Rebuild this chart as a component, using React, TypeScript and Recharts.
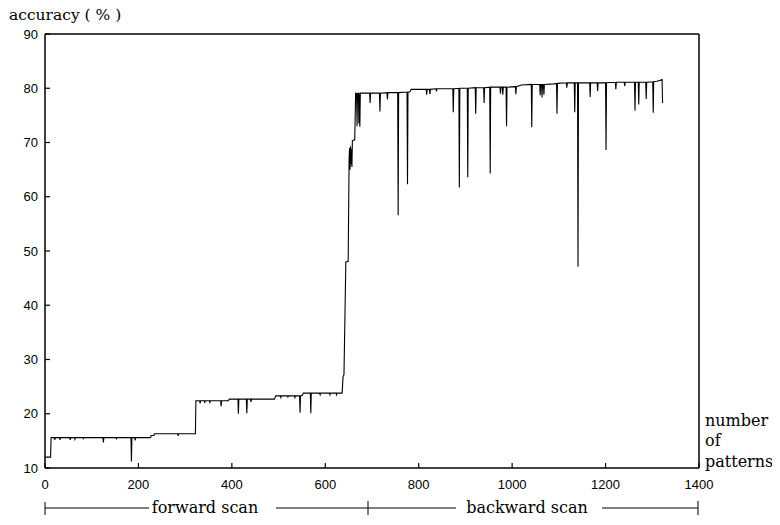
import React from "react";
import { LineChart, Line, XAxis, YAxis } from "recharts";

// Forward scan phase (number of patterns, accuracy %)
const forwardPatterns = [
  1, 12, 13, 20, 21, 22, 31, 32, 33, 53, 54, 55, 63, 64, 65, 81, 82, 83, 124, 125, 126,
  152, 153, 154, 184, 185, 186, 192, 193, 194, 226, 227, 233, 234, 284, 285, 286, 322, 323,
  331, 332, 333, 341, 342, 343, 352, 353, 354, 376, 377, 378, 392, 395, 413, 414, 415, 431,
  432, 433, 440, 441, 442, 491, 494, 504, 505, 506, 519, 520, 521, 534, 535, 536, 545, 546,
  547, 551, 553, 568, 569, 570, 588, 589, 590, 609, 610, 611, 623, 624, 625, 636, 638, 640,
  644, 649, 651, 652, 653, 654, 655, 656, 657, 658, 663, 665, 667, 668, 669, 671, 672, 673,
  674, 675, 690,
];
const forwardAccuracy = [
  12.0, 12.0, 15.6, 15.6, 15.2, 15.6, 15.6, 15.2, 15.6, 15.6, 15.2, 15.6, 15.6, 15.3, 15.6,
  15.6, 15.4, 15.6, 15.6, 14.7, 15.6, 15.6, 15.4, 15.6, 15.6, 11.2, 15.6, 15.6, 15.1, 15.6,
  15.6, 16.0, 16.0, 16.3, 16.3, 15.9, 16.3, 16.3, 22.4, 22.4, 21.9, 22.4, 22.4, 22.0, 22.4,
  22.4, 22.1, 22.4, 22.4, 21.4, 22.4, 22.4, 22.7, 22.7, 20.0, 22.7, 22.7, 20.1, 22.7, 22.7,
  22.2, 22.7, 22.7, 23.3, 23.3, 23.0, 23.3, 23.3, 23.1, 23.3, 23.3, 23.0, 23.3, 23.3, 20.2,
  23.3, 23.4, 23.8, 23.8, 20.1, 23.8, 23.8, 23.5, 23.8, 23.8, 23.5, 23.8, 23.8, 23.5, 23.8,
  23.8, 26.8, 27.2, 48.0, 48.1, 67.0, 69.0, 65.0, 69.3, 66.0, 68.8, 65.5, 70.3, 70.5, 79.1,
  79.0, 73.0, 79.0, 79.1, 73.5, 79.1, 72.9, 79.1, 79.1,
];

// Backward scan phase
const backwardPatterns = [
  695, 696, 697, 716, 717, 718, 732, 733, 734, 755, 756, 757, 775, 776, 777, 781, 784, 816,
  817, 818, 823, 824, 825, 837, 838, 839, 873, 874, 875, 886, 887, 888, 904, 905, 906, 921,
  922, 923, 939, 940, 941, 952, 953, 954, 974, 975, 976, 979, 980, 981, 987, 988, 989, 1007,
  1008, 1009, 1020, 1041, 1042, 1043, 1059, 1060, 1061, 1063, 1064, 1065, 1067, 1068, 1069,
  1090, 1095, 1096, 1097, 1116, 1117, 1118, 1133, 1134, 1135, 1140, 1141, 1142, 1166, 1167,
  1168, 1182, 1183, 1184, 1200, 1201, 1202, 1221, 1222, 1223, 1240, 1241, 1242, 1262, 1263,
  1264, 1270, 1271, 1272, 1286, 1287, 1288, 1301, 1302, 1303, 1310, 1318, 1321, 1322,
];
const backwardAccuracy = [
  79.1, 77.3, 79.1, 79.1, 75.7, 79.1, 79.2, 78.0, 79.2, 79.2, 56.6, 79.2, 79.3, 62.3, 79.3,
  79.3, 79.8, 79.8, 78.8, 79.8, 79.8, 78.9, 79.8, 79.9, 79.4, 79.9, 79.9, 75.6, 79.9, 80.0,
  61.7, 80.0, 80.0, 63.6, 80.0, 80.1, 75.3, 80.1, 80.1, 77.3, 80.1, 80.2, 64.3, 80.2, 80.2,
  79.0, 80.2, 80.2, 78.8, 80.2, 80.2, 73.0, 80.2, 80.3, 78.9, 80.3, 80.6, 80.7, 72.8, 80.7,
  80.7, 78.7, 80.7, 80.7, 78.3, 80.7, 80.7, 78.8, 80.7, 80.8, 80.9, 75.3, 80.9, 81.0, 80.1,
  81.0, 81.0, 75.6, 81.0, 81.0, 47.1, 81.0, 81.0, 78.4, 81.0, 81.0, 79.5, 81.0, 81.0, 68.6,
  81.0, 81.1, 79.8, 81.1, 81.1, 80.4, 81.1, 81.1, 75.9, 81.1, 81.1, 77.0, 81.1, 81.1, 78.0,
  81.1, 81.2, 75.5, 81.2, 81.3, 81.5, 81.6, 77.3,
];

const xTicks = [0, 200, 400, 600, 800, 1000, 1200, 1400];
const yTicks = [10, 20, 30, 40, 50, 60, 70, 80, 90];

const data = [
  ...forwardPatterns.map((p, i) => ({ patterns: p, accuracy: forwardAccuracy[i] })),
  ...backwardPatterns.map((p, i) => ({ patterns: p, accuracy: backwardAccuracy[i] })),
];

const tickStyle = { fontFamily: "Liberation Sans, Arial, sans-serif", fontSize: 13, fill: "#000" };
const serif = "DejaVu Serif, serif";
const axisLine = { stroke: "#000", strokeWidth: 1.5 };
const tickLine = { stroke: "#000", strokeWidth: 1.2 };

export default function App() {
  return (
    <div style={{ position: "relative", width: 772, height: 517 }}>
      <LineChart
        width={772}
        height={517}
        data={data}
        margin={{ top: 25, right: 80, bottom: 27, left: 0 }}
      >
        <XAxis
          dataKey="patterns"
          type="number"
          domain={[0, 1400]}
          ticks={xTicks}
          interval={0}
          allowDataOverflow
          height={30}
          tick={tickStyle}
          tickSize={-5}
          tickMargin={17}
          axisLine={axisLine}
          tickLine={tickLine}
        />
        <XAxis
          xAxisId="top"
          dataKey="patterns"
          orientation="top"
          type="number"
          domain={[0, 1400]}
          ticks={xTicks}
          interval={0}
          allowDataOverflow
          height={1}
          tick={false}
          tickSize={-5}
          axisLine={axisLine}
          tickLine={tickLine}
        />
        <YAxis
          type="number"
          domain={[10, 90]}
          ticks={yTicks}
          interval={0}
          allowDataOverflow
          width={37}
          tick={tickStyle}
          tickSize={-5}
          tickMargin={12}
          axisLine={axisLine}
          tickLine={tickLine}
        />
        <YAxis
          yAxisId="right"
          orientation="right"
          type="number"
          domain={[10, 90]}
          ticks={yTicks}
          interval={0}
          allowDataOverflow
          width={1}
          tick={false}
          tickSize={-5}
          axisLine={axisLine}
          tickLine={tickLine}
        />
        <Line
          type="linear"
          dataKey="accuracy"
          stroke="#000"
          strokeWidth={1.1}
          dot={false}
          isAnimationActive={false}
        />
        <Line
          xAxisId="top"
          yAxisId="right"
          type="linear"
          dataKey="accuracy"
          stroke="none"
          dot={false}
          legendType="none"
          isAnimationActive={false}
        />
      </LineChart>
      <svg
        width={772}
        height={517}
        style={{ position: "absolute", left: 0, top: 0, pointerEvents: "none", overflow: "visible" }}
      >
        <text x={1} y={12} fontFamily={serif} fontSize={15.5} fill="#000">
          accuracy ( % )
        </text>
        <text x={697} y={418} fontFamily={serif} fontSize={16} fill="#000">number</text>
        <text x={697} y={438} fontFamily={serif} fontSize={16} fill="#000">of</text>
        <text x={697} y={459} fontFamily={serif} fontSize={16} fill="#000">patterns</text>
        <g stroke="#000" strokeWidth={1}>
          <line x1={37} y1={500} x2={141} y2={500} />
          <line x1={268} y1={500} x2={448} y2={500} />
          <line x1={594} y1={500} x2={690} y2={500} />
          <line x1={37} y1={494} x2={37} y2={507} />
          <line x1={360} y1={493} x2={360} y2={507} />
          <line x1={690} y1={493} x2={690} y2={507} />
        </g>
        <text x={197} y={505} textAnchor="middle" fontFamily={serif} fontSize={16} fill="#000">
          forward scan
        </text>
        <text x={519} y={505} textAnchor="middle" fontFamily={serif} fontSize={16} fill="#000">
          backward scan
        </text>
      </svg>
    </div>
  );
}
